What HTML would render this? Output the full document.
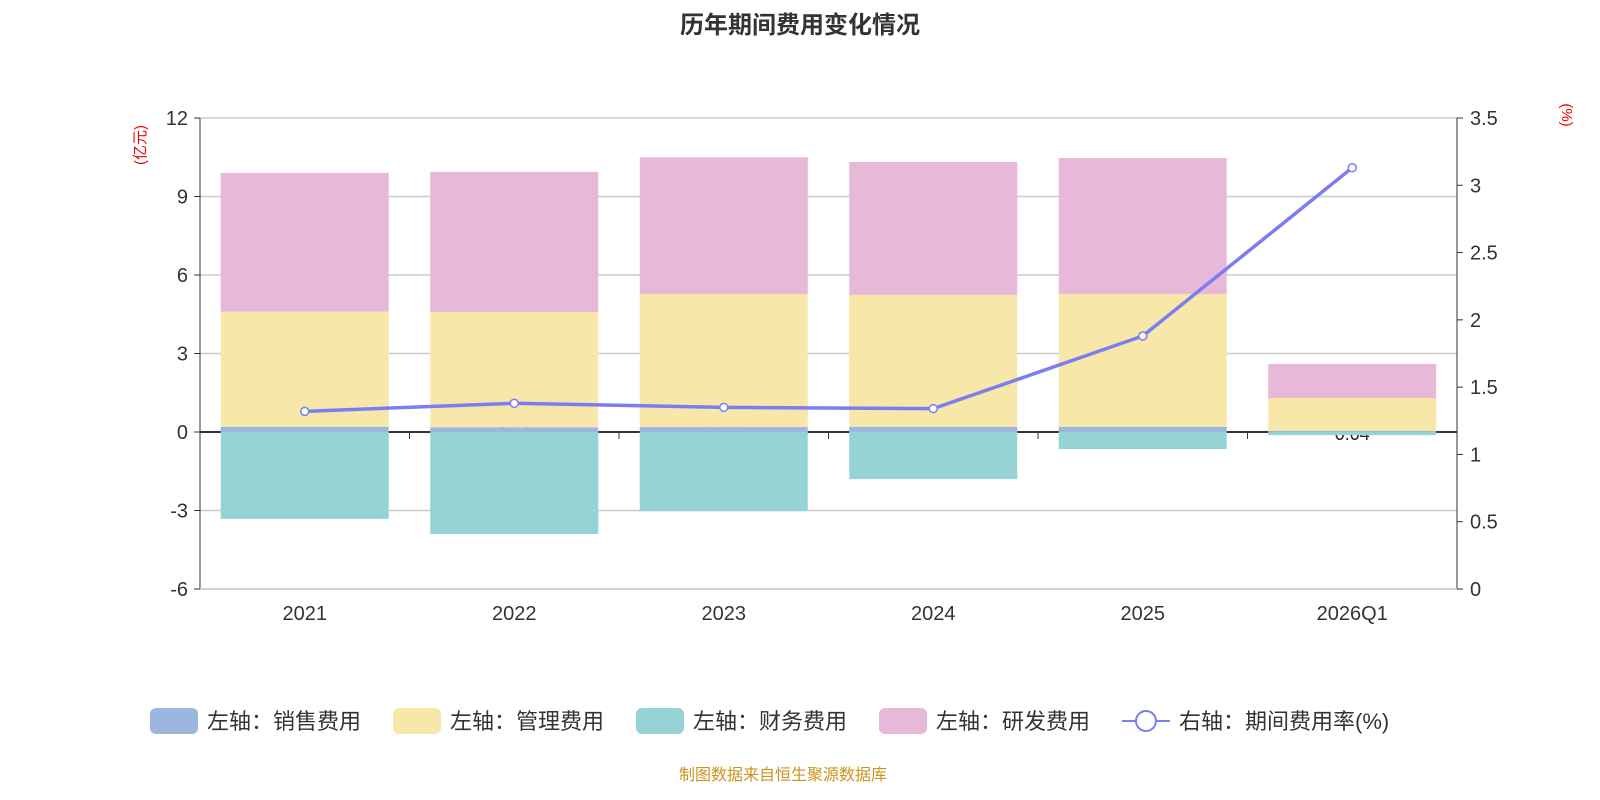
<!DOCTYPE html>
<html><head><meta charset="utf-8"><style>
body{margin:0;background:#fff;}
svg{display:block;font-family:"Liberation Sans","Noto Sans CJK SC",sans-serif;}
</style></head><body>
<svg id="c" width="1600" height="800">
<text x="800" y="33" text-anchor="middle" font-size="24" font-weight="bold" fill="#333">历年期间费用变化情况</text>
<g id="grid"></g><g id="labels"></g><g id="bars"></g><g id="axes"></g><g id="line"></g>
<text transform="translate(145,145) rotate(-90)" text-anchor="middle" font-size="15" fill="#e00">(亿元)</text>
<text transform="translate(1562,115) rotate(90)" text-anchor="middle" font-size="15" fill="#e00">(%)</text>
<g id="legend" font-size="22" fill="#333">
<rect x="150" y="708" width="48" height="26" rx="6" fill="#9db6e0"/><text x="207" y="729">左轴：销售费用</text>
<rect x="393" y="708" width="48" height="26" rx="6" fill="#f7e7a9"/><text x="450" y="729">左轴：管理费用</text>
<rect x="636" y="708" width="48" height="26" rx="6" fill="#96d3d4"/><text x="693" y="729">左轴：财务费用</text>
<rect x="879" y="708" width="48" height="26" rx="6" fill="#e7b8d8"/><text x="936" y="729">左轴：研发费用</text>
<line x1="1122" y1="721" x2="1170" y2="721" stroke="#7b7ef0" stroke-width="2"/><circle cx="1146" cy="721" r="10" fill="#fff" stroke="#7b7ef0" stroke-width="2"/><text x="1179" y="729">右轴：期间费用率(%)</text>
</g>
<text x="783" y="780" text-anchor="middle" font-size="16" fill="#c8941e">制图数据来自恒生聚源数据库</text>
</svg>
<script>
const categories=["2021","2022","2023","2024","2025","2026Q1"];
const sales=[0.2,0.18,0.19,0.2,0.2,0.04];
const admin=[4.4,4.4,5.08,5.04,5.07,1.26];
const finance=[-3.32,-3.9,-3.02,-1.8,-0.65,-0.12];
const rd=[5.3,5.36,5.23,5.08,5.2,1.3];
const rate=[1.32,1.38,1.35,1.34,1.88,3.13];
const leftTicks=[-6,-3,0,3,6,9,12];
const rightTicks=[0,0.5,1,1.5,2,2.5,3,3.5];
const NS="http://www.w3.org/2000/svg";
const X0=200,X1=1457,Y0=118,Y1=589;
const yL=v=>Y1-(v+6)/18*(Y1-Y0);
const yR=v=>Y1-v/3.5*(Y1-Y0);
const step=(X1-X0)/categories.length;
const xC=i=>X0+step*(i+0.5);
const BW=168;
function mk(tag,attrs,parent,text){const e=document.createElementNS(NS,tag);for(const k in attrs)e.setAttribute(k,attrs[k]);if(text!==undefined)e.textContent=text;document.getElementById(parent).appendChild(e);return e;}
leftTicks.forEach(t=>{
 const l=mk('line',{x1:X0,x2:X1,y1:yL(t),y2:yL(t),stroke:t===0?'#333':'#ccc','stroke-width':t===0?2:1.5},'grid');
 
 
 const tx=mk('text',{x:188,y:yL(t)+7,'text-anchor':'end','font-size':20,fill:'#333'},'axes',String(t));
 
 
 mk('line',{x1:194,x2:X0,y1:yL(t),y2:yL(t),stroke:'#333'},'axes');
});
rightTicks.forEach(t=>{
 const tx=mk('text',{x:1470,y:yR(t)+7,'font-size':20,fill:'#333'},'axes',String(t));
 
 
 mk('line',{x1:X1,x2:X1+6,y1:yR(t),y2:yR(t),stroke:'#333'},'axes');
});
mk('line',{x1:X0,x2:X0,y1:Y0,y2:Y1,stroke:'#333'},'axes');
mk('line',{x1:X1,x2:X1,y1:Y0,y2:Y1,stroke:'#333'},'axes');
mk('line',{x1:X0,x2:X1,y1:Y1,y2:Y1,stroke:'#ccc','stroke-width':1.5},'axes');
categories.forEach((c,i)=>{
 if(i>0)mk('line',{x1:X0+step*i,x2:X0+step*i,y1:yL(0),y2:yL(0)+7,stroke:'#333'},'axes');
 const tx=mk('text',{x:xC(i),y:620,'text-anchor':'middle','font-size':20,fill:'#333'},'axes',c);
 
 
 const lb=mk('text',{x:xC(i),y:yL(0)+8,'text-anchor':'middle','font-size':18,fill:'#222'},'labels',String(sales[i]));
 
 
 const x=xC(i)-BW/2;
 let base=0;
 [[sales,'#9db6e0','bar-sales'],[admin,'#f7e7a9','bar-admin'],[rd,'#e7b8d8','bar-rd']].forEach(([arr,col,nm])=>{
  const top=base+arr[i];
  const r=mk('rect',{x:x,width:BW,y:yL(top),height:yL(base)-yL(top),fill:col},'bars');
  
  
  base=top;
 });
 const f=mk('rect',{x:x,width:BW,y:yL(0),height:yL(finance[i])-yL(0),fill:'#96d3d4'},'bars');
 
 
});
const pl=mk('polyline',{points:rate.map((v,i)=>xC(i)+','+yR(v)).join(' '),fill:'none',stroke:'#7b7ef0','stroke-width':3.5},'line');


rate.forEach((v,i)=>{
 const c=mk('circle',{cx:xC(i),cy:yR(v),r:4,fill:'#fff',stroke:'#7b7ef0','stroke-width':1.5},'line');
 
 
});
</script>
</body></html>
